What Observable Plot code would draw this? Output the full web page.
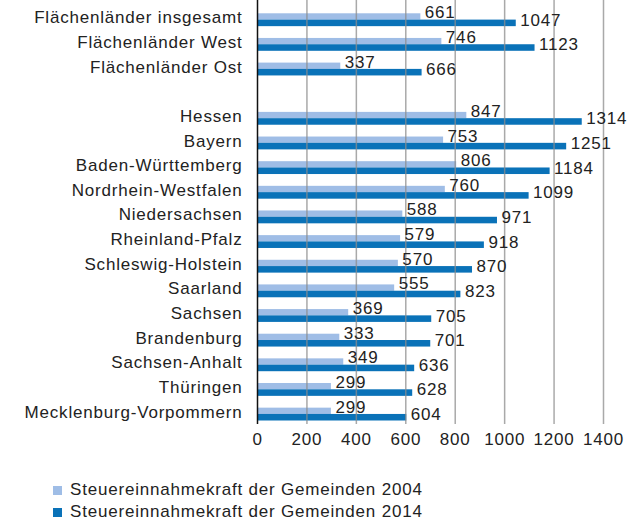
<!DOCTYPE html>
<html>
<head>
<meta charset="utf-8">
<script src="https://cdn.jsdelivr.net/npm/d3@7"></script>
<script src="https://cdn.jsdelivr.net/npm/@observablehq/plot@0.6"></script>
<style>
  body { margin: 0; background: #fff; font-family: "Liberation Sans", Arial, Helvetica, sans-serif; color: #222; }
  #chart svg text { letter-spacing: 0.8px; }
  #legend { margin-top: 25px; margin-left: 53px; }
  .item { height: 22px; display: flex; align-items: center; font-size: 17px; letter-spacing: 0.8px; }
  .swatch { width: 9px; height: 9px; margin-right: 8px; }
</style>
</head>
<body>
<div id="chart"></div>
<div id="legend"></div>
<script>
// Steuereinnahmekraft der Gemeinden je Einwohner (Euro)
const regions = [
  "Flächenländer insgesamt", "Flächenländer West", "Flächenländer Ost",
  "Hessen", "Bayern", "Baden-Württemberg", "Nordrhein-Westfalen",
  "Niedersachsen", "Rheinland-Pfalz", "Schleswig-Holstein", "Saarland",
  "Sachsen", "Brandenburg", "Sachsen-Anhalt", "Thüringen", "Mecklenburg-Vorpommern"
];
const values2004 = [661, 746, 337, 847, 753, 806, 760, 588, 579, 570, 555, 369, 333, 349, 299, 299];
const values2014 = [1047, 1123, 666, 1314, 1251, 1184, 1099, 971, 918, 870, 823, 705, 701, 636, 628, 604];
const xTicks = [0, 200, 400, 600, 800, 1000, 1200, 1400];
const seriesLabels = ["Steuereinnahmekraft der Gemeinden 2004", "Steuereinnahmekraft der Gemeinden 2014"];
const seriesColors = ["#9fbde6", "#0a72b8"];

// an empty band separates the aggregates from the individual Länder
const spacer = " ";
const yDomain = [...regions.slice(0, 3), spacer, ...regions.slice(3)];

const rows2004 = regions.map((name, i) => ({name, value: values2004[i]}));
const rows2014 = regions.map((name, i) => ({name, value: values2014[i]}));

const textStyle = {fontSize: 17, fill: "#222"};

const chart = Plot.plot({
  width: 640,
  height: 454,
  marginLeft: 257,
  marginRight: 37,
  marginTop: 5,
  marginBottom: 30,
  style: {fontFamily: "'Liberation Sans', Arial, Helvetica, sans-serif", background: "#fff"},
  x: {domain: [0, 1400], label: null},
  y: {domain: yDomain, padding: 0, round: false, label: null},
  marks: [
    Plot.barX(rows2004, {y: "name", x: "value", fill: seriesColors[0], insetTop: 8.3, insetBottom: 10}),
    Plot.barX(rows2014, {y: "name", x: "value", fill: seriesColors[1], insetTop: 14.6, insetBottom: 3.5}),
    Plot.ruleX(xTicks.filter(d => d > 0), {stroke: "#8c8c8c", strokeOpacity: 0.75, strokeWidth: 1.5, insetTop: -5}),
    Plot.ruleX([0], {stroke: "#111", strokeWidth: 1.5, insetTop: -5}),
    Plot.text(rows2004, {y: "name", x: "value", text: d => String(d.value), textAnchor: "start", dx: 4, dy: -5, ...textStyle}),
    Plot.text(rows2014, {y: "name", x: "value", text: d => String(d.value), textAnchor: "start", dx: 4, dy: 2.5, ...textStyle}),
    Plot.axisY({tickSize: 0, tickPadding: 15, label: null, tickFormat: d => d === spacer ? "" : d, ...textStyle}),
    Plot.axisX({ticks: xTicks, tickSize: 0, tickPadding: 8, label: null, tickFormat: d => String(d), ...textStyle})
  ]
});
document.getElementById("chart").appendChild(chart);

const legend = document.getElementById("legend");
seriesLabels.forEach((label, i) => {
  const item = document.createElement("div");
  item.className = "item";
  const sw = document.createElement("span");
  sw.className = "swatch";
  sw.style.background = seriesColors[i];
  const txt = document.createElement("span");
  txt.textContent = label;
  item.appendChild(sw);
  item.appendChild(txt);
  legend.appendChild(item);
});
</script>
</body>
</html>
